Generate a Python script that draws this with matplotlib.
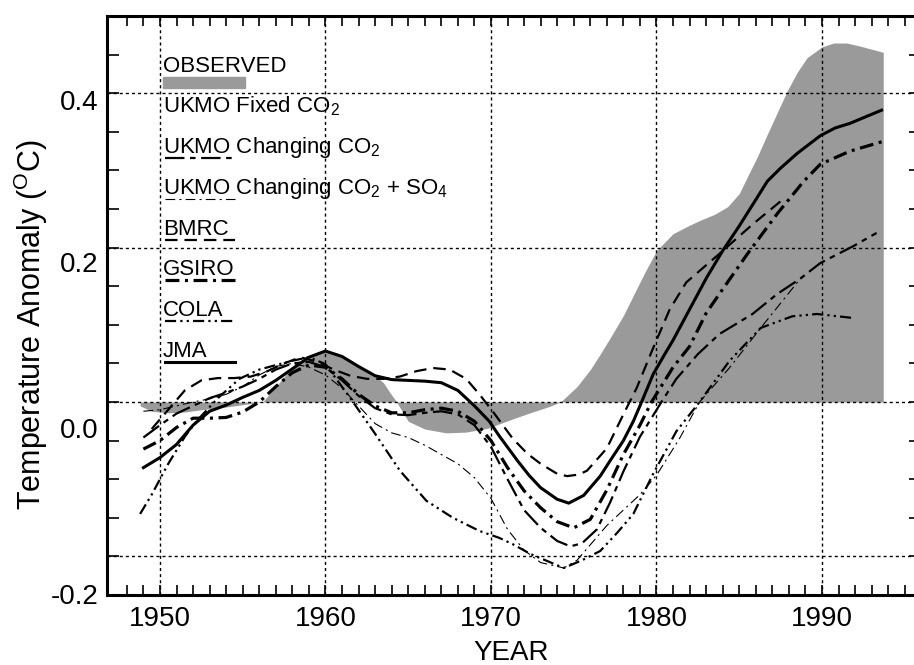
import numpy as np
import matplotlib
matplotlib.use("Agg")
import matplotlib.pyplot as plt
from matplotlib.patches import Rectangle

plt.rcParams.update({
    'font.family': ['Liberation Sans', 'DejaVu Sans'],
    'mathtext.default': 'regular',
    'lines.scale_dashes': False,
    'lines.solid_joinstyle': 'round',
    'lines.dash_joinstyle': 'round',
})

# ── data ──
obs_years = [1948.8, 1949.5, 1950.5, 1951.5, 1952.5, 1953.5, 1954.5, 1955.5, 1956.2, 1957, 1958,
             1959, 1960, 1961, 1962, 1963, 1963.5, 1963.9, 1964.3, 1965, 1966, 1967.3, 1968.5,
             1969.8, 1971.3, 1972.5, 1973.5, 1974.2, 1975.2, 1976, 1976.6, 1977.2, 1978, 1978.6,
             1979.3, 1980, 1981, 1982, 1982.6, 1983.5, 1984.3, 1985, 1985.5, 1986.1, 1986.7,
             1987.3, 1987.9, 1988.5, 1989.1, 1990, 1990.7, 1991.5, 1992.3, 1993.0, 1993.7]
obs_vals = [-0.005, -0.012, -0.014, -0.013, -0.010, -0.008, -0.005, -0.002, 0.0, 0.020, 0.045,
            0.060, 0.066, 0.060, 0.046, 0.034, 0.025, 0.012, 0.0, -0.025, -0.035, -0.040, -0.039,
            -0.034, -0.022, -0.013, -0.006, 0.0, 0.020, 0.042, 0.062, 0.083, 0.112, 0.138,
            0.168, 0.196, 0.218, 0.229, 0.235, 0.243, 0.253, 0.270, 0.292, 0.318, 0.347,
            0.375, 0.403, 0.427, 0.446, 0.460, 0.465, 0.465, 0.461, 0.457, 0.453]

jma_years = [1949, 1950, 1951, 1952, 1953, 1954, 1955, 1956, 1957, 1958, 1959, 1960, 1961, 1962,
             1963, 1964, 1965, 1966, 1967, 1968, 1969, 1969.9, 1970.5, 1971.6, 1972.3, 1973,
             1974, 1974.7, 1975.6, 1976.6, 1977.2, 1978, 1978.6, 1979.1, 1979.8, 1980.5, 1981,
             1982, 1983, 1984, 1985, 1986, 1986.7, 1987.5, 1988.5, 1989.9, 1990.8, 1991.7,
             1992.7, 1993.6]
jma_vals = [-0.085, -0.072, -0.055, -0.030, -0.012, -0.004, 0.006, 0.015, 0.028, 0.043, 0.058,
            0.066, 0.059, 0.046, 0.034, 0.029, 0.028, 0.027, 0.025, 0.015, -0.005, -0.025,
            -0.044, -0.076, -0.095, -0.111, -0.126, -0.131, -0.121, -0.096, -0.076, -0.050,
            -0.025, 0.0, 0.036, 0.062, 0.080, 0.120, 0.160, 0.196, 0.228, 0.262, 0.286, 0.303,
            0.322, 0.345, 0.355, 0.361, 0.370, 0.378]

bmrc_years = [1949.5, 1950.5, 1951.5, 1952.5, 1953.5, 1954.5, 1955.5, 1956.5, 1957.5, 1958.5,
              1959.5, 1960.5, 1961.5, 1962.5, 1963.5, 1964.5, 1965.5, 1966.5, 1967.5, 1968.5,
              1969.3, 1970.1, 1971.3, 1972.2, 1973, 1974, 1974.6, 1975.3, 1975.8, 1977, 1978,
              1978.8, 1979.8, 1980.8, 1981.8, 1983.8, 1985.8, 1987.5]
bmrc_vals = [-0.035, -0.010, 0.015, 0.028, 0.031, 0.031, 0.033, 0.040, 0.050, 0.058, 0.052,
             0.042, 0.034, 0.030, 0.030, 0.033, 0.040, 0.044, 0.042, 0.030, 0.010, -0.012,
             -0.047, -0.067, -0.080, -0.093, -0.096, -0.094, -0.089, -0.060, -0.016, 0.018,
             0.070, 0.120, 0.155, 0.192, 0.230, 0.260]

gsiro_years = [1949, 1950, 1951, 1952, 1953, 1954, 1955, 1956, 1957, 1958, 1959, 1960, 1961,
               1962, 1963, 1964, 1965, 1966, 1967, 1968, 1969, 1970, 1971, 1972, 1973, 1974,
               1975, 1976, 1977, 1978, 1979, 1979.7, 1981, 1982, 1983, 1983.8, 1985.5, 1987.3,
               1988.9, 1989.9, 1991.7, 1993.6]
gsiro_vals = [-0.061, -0.050, -0.033, -0.021, -0.021, -0.020, -0.013, 0.0, 0.020, 0.038,
              0.048, 0.045, 0.030, 0.010, -0.005, -0.014, -0.014, -0.010, -0.008, -0.012,
              -0.025, -0.050, -0.085, -0.115, -0.137, -0.155, -0.163, -0.152, -0.114, -0.068,
              -0.030, 0.0, 0.045, 0.072, 0.115, 0.140, 0.192, 0.244, 0.286, 0.308, 0.325, 0.337]

ukmo_co2_years = [1949, 1950, 1951, 1952, 1953, 1954, 1955, 1956, 1957, 1958, 1959, 1960, 1961,
                  1962, 1963, 1964, 1965, 1966, 1967, 1968, 1969, 1970, 1971, 1972, 1973, 1974,
                  1974.8, 1975.5, 1976.4, 1977.2, 1978, 1979, 1980.3, 1981.2, 1982.5, 1983.8,
                  1985.8, 1987.3, 1988.7, 1989.9, 1991.9, 1993.3]
ukmo_co2_vals = [-0.046, -0.030, -0.015, -0.005, 0.005, 0.012, 0.020, 0.030, 0.042, 0.050,
                 0.052, 0.045, 0.028, 0.008, -0.008, -0.016, -0.017, -0.014, -0.012, -0.016,
                 -0.030, -0.058, -0.100, -0.140, -0.163, -0.180, -0.187, -0.183, -0.165, -0.130,
                 -0.090, -0.045, 0.0, 0.030, 0.062, 0.088, 0.114, 0.140, 0.160, 0.180, 0.202,
                 0.219]

ukmo_so4_years = [1949, 1950, 1951, 1952, 1953, 1954, 1955, 1956, 1957, 1958, 1959, 1960, 1961,
                  1962, 1963, 1964, 1965, 1966, 1967, 1968, 1969, 1970, 1971, 1972, 1973,
                  1974.4, 1975.2, 1976, 1977, 1978, 1979, 1980, 1981.4, 1982.6, 1984.4, 1986.3,
                  1988.7]
ukmo_so4_vals = [-0.012, -0.010, -0.005, 0.0, 0.004, 0.010, 0.020, 0.035, 0.046, 0.050, 0.045,
                 0.035, 0.018, -0.005, -0.028, -0.040, -0.046, -0.056, -0.068, -0.080, -0.098,
                 -0.125, -0.165, -0.192, -0.208, -0.215, -0.205, -0.185, -0.160, -0.140,
                 -0.120, -0.095, -0.047, 0.0, 0.044, 0.096, 0.160]

cola_years = [1948.8, 1949.5, 1950.5, 1951.5, 1952.2, 1953.5, 1954.8, 1956, 1957.9, 1959, 1960,
              1961.5, 1962.9, 1964.5, 1966.1, 1967.7, 1969.3, 1970.5, 1971.3, 1972.4, 1974.4,
              1975.5, 1976.6, 1977.6, 1978.6, 1979.8, 1981.2, 1982.6, 1984.4, 1986.3, 1988.2,
              1989.7, 1991.8]
cola_vals = [-0.145, -0.120, -0.080, -0.045, -0.025, 0.005, 0.030, 0.042, 0.053, 0.058, 0.049,
             0.005, -0.038, -0.089, -0.128, -0.150, -0.167, -0.176, -0.184, -0.197, -0.215,
             -0.205, -0.193, -0.170, -0.145, -0.093, -0.038, 0.0, 0.053, 0.096, 0.111, 0.114,
             0.109]

grid_years = [1950, 1960, 1970, 1980, 1990]
grid_temps = [-0.2, 0.0, 0.2, 0.4]
ytick_labels = ['0.4', '0.2', '0.0', '-0.2']
# the printed labels sit a little below their grid lines in the original
ytick_label_pos = [0.391, 0.181, -0.034, -0.249]

series = [
    # (legend text, years, values, line style, width)
    ('UKMO Changing CO$_2$', ukmo_co2_years, ukmo_co2_vals, (0, (14, 4, 4, 4)), 1.6),
    ('UKMO Changing CO$_2$ + SO$_4$', ukmo_so4_years, ukmo_so4_vals, (0, (7, 3, 1.5, 3)), 0.8),
    ('BMRC', bmrc_years, bmrc_vals, (0, (9, 5)), 1.6),
    ('GSIRO', gsiro_years, gsiro_vals, (0, (10, 4, 2.2, 4)), 2.3),
    ('COLA', cola_years, cola_vals, (0, (8, 3, 1.6, 3, 1.6, 3)), 1.6),
    ('JMA', jma_years, jma_vals, '-', 2.2),
]

W, H = 914, 665
fig = plt.figure(figsize=(W / 100, H / 100), dpi=100)
ax = fig.add_axes([107 / W, 70 / H, 814.3 / W, 579 / H])

ax.fill_between(obs_years, obs_vals, 0, color='#9a9a9a', lw=0, zorder=1)

grid_style = dict(color='black', lw=1.0, ls=(0, (2.2, 2.2)), zorder=2)
for yr in grid_years:
    ax.axvline(yr, **grid_style)
for t in grid_temps:
    ax.axhline(t, **grid_style)

for label, xs, ys, ls, lw in series:
    ax.plot(xs, ys, color='black', ls=ls, lw=lw, zorder=3)

ax.set_xlim(1946.8, 1996.0)
ax.set_ylim(-0.25, 0.5)

ax.set_xticks(grid_years)
ax.set_xticks(np.arange(1948, 1996), minor=True)
ax.set_yticks(ytick_label_pos)
ax.set_yticklabels(ytick_labels)
ax.set_yticks(np.arange(-0.2, 0.51, 0.05), minor=True)

ax.tick_params(which='both', direction='in', top=True, right=True, width=1.2, labelsize=20)
ax.tick_params(axis='x', which='both', length=7.2, pad=8)
ax.tick_params(axis='y', which='major', length=0, pad=6)
ax.tick_params(axis='y', which='minor', length=8.5)

for side in ['left', 'bottom', 'top', 'right']:
    ax.spines[side].set_linewidth(2.2)

fig.text(31 / W, 1 - 325 / H, 'Temperature Anomaly ($^{O}$C)', rotation=90,
         ha='center', va='center', fontsize=22)
fig.text(511 / W, 1 - 653 / H, 'YEAR', ha='center', va='center', fontsize=20)

# ── hand-drawn key, as in the original ──
kx = 163
fig.text(kx / W, 1 - 72 / H, 'OBSERVED', fontsize=16, va='baseline')
fig.add_artist(Rectangle((kx / W, 1 - 88 / H), 82 / W, 11 / H, color='#9a9a9a',
                         transform=fig.transFigure))
fig.text(kx / W, 1 - 112 / H, 'UKMO Fixed CO$_2$', fontsize=16, va='baseline')
for i, (label, xs, ys, ls, lw) in enumerate(series):
    base = 153 + 40.8 * i
    fig.text(kx / W, 1 - base / H, label, fontsize=16, va='baseline')
    ax.plot([(kx + 2) / W, (kx + 72) / W], [1 - (base + 5) / H] * 2, color='black',
            ls=ls, lw=lw, transform=fig.transFigure, clip_on=False)

fig.savefig('out.png', dpi=100)
